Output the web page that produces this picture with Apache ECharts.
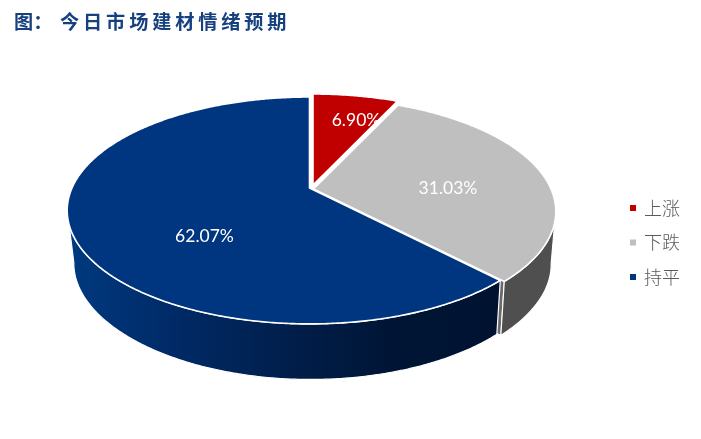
<!DOCTYPE html>
<html><head><meta charset="utf-8">
<style>html,body{margin:0;padding:0;background:#fff}#c{width:701px;height:439px}</style>
<script src="https://cdn.jsdelivr.net/npm/echarts@6/dist/echarts.min.js"></script>
</head><body><div id="c"></div>
<script>
const categories = ['上涨','下跌','持平'];
const values = [6.90,31.03,62.07];
const topColors = ['#C00000','#BFBFBF','#003580'];
const sideColors = [
  ['#7a0000','#7a0000'],
  ['#4f4f4f','#4f4f4f'],
  ['#003a80','#002a66','#001f4c','#001535','#001230']
];
const explode = [[2.5,-3],[3,1],[-1,0]];
const labelAt = [[356,120.5],[448,188.5],[204.5,236.5]];
const drawOrder = [1,2,0];

// perspective disc parameters: upper face and lower face
const P = {cx:310.5,cy:188,R:237.5,S:109,k:0.198,wallFrom:101,wallTo:259};
const L = {dx:1,dy:53,R:232,S:108,ky:0.22};
const total = values.reduce((a,b)=>a+b,0);
const starts = []; let acc = 0;
values.forEach(v=>{starts.push(acc/total*360); acc+=v;});

function project(deg,f,low,ex){
  const t = deg*Math.PI/180, X = f*Math.sin(t), Y = -f*Math.cos(t), d = 1-P.k*Y;
  if(low) return [P.cx+ex[0]+L.dx+L.R*X/d, P.cy+ex[1]+L.dy+L.S*Y/(1-L.ky*Y)];
  return [P.cx+ex[0]+P.R*X/d, P.cy+ex[1]+P.S*Y/d];
}
function arc(a,b,low,ex){
  const out=[], n=Math.max(2,Math.ceil(Math.abs(b-a)*2));
  for(let i=0;i<=n;i++) out.push(project(a+(b-a)*i/n,1,low,ex));
  return out;
}
function grad(stops){
  return {type:'linear',x:0,y:0,x2:1,y2:0,colorStops:stops.map((c,i)=>({offset:i/(stops.length-1),color:c}))};
}
const poly=(points,fill,stroke,lw)=>({type:'polygon',shape:{points},style:{fill,stroke:stroke||null,lineWidth:lw||0,lineJoin:'round'}});

function renderSlice(idx){
  const a=starts[idx], b=a+values[idx]/total*360, ex=explode[idx], kids=[];
  const va=Math.max(a,P.wallFrom), vb=Math.min(b,P.wallTo);
  if(vb>va){
    if(idx===1){
      const e=project(b,1,false,ex), eL=project(b,1,true,ex), c=project(b,0.985,false,[ex[0]-4,ex[1]-2]), cL=project(b,0.985,true,[ex[0]-4,ex[1]-2]);
      kids.push(poly([c,e,eL,cL],'#6b6b6b','#fff',1));
    }
    const pts=arc(va,vb,false,ex).concat(arc(vb,va,true,ex));
    kids.push(poly(pts,grad(sideColors[idx]),'#fff',1.2));
  }
  const top=[project(a,0,false,ex)].concat(arc(a,b,false,ex));
  kids.push(poly(top,topColors[idx],'#fff',1.6));
  kids.push({type:'text',x:labelAt[idx][0],y:labelAt[idx][1],z2:10,style:{
    text:values[idx].toFixed(2)+'%',fill:'#fff',font:'17.5px Lato',align:'center',verticalAlign:'middle'}});
  return {type:'group',children:kids};
}

const chart=echarts.init(document.getElementById('c'),null,{renderer:'canvas'});
chart.setOption({
  animation:false,
  backgroundColor:'#fff',
  title:{text:'图\uFF1A\u2009\u2009今\u2009日\u2009市\u2009场\u2009建\u2009材\u2009情\u2009绪\u2009预\u2009期',left:14,top:12,padding:0,
    textStyle:{color:'#17407F',fontSize:19.2,fontWeight:'bold',fontFamily:'Noto Sans CJK SC'}},
  legend:{orient:'vertical',left:625,top:194,itemWidth:6,itemHeight:6,itemGap:16.5,icon:'rect',
    data:categories,selectedMode:false,
    textStyle:{color:'#595959',fontSize:18,fontFamily:'Noto Sans CJK SC',fontWeight:300,padding:[0,0,0,3]}},
  series:drawOrder.map(i=>({
    type:'custom',coordinateSystem:'none',name:categories[i],
    itemStyle:{color:topColors[i]},
    data:[values[i]],
    renderItem:()=>renderSlice(i)
  }))
});
</script></body></html>
